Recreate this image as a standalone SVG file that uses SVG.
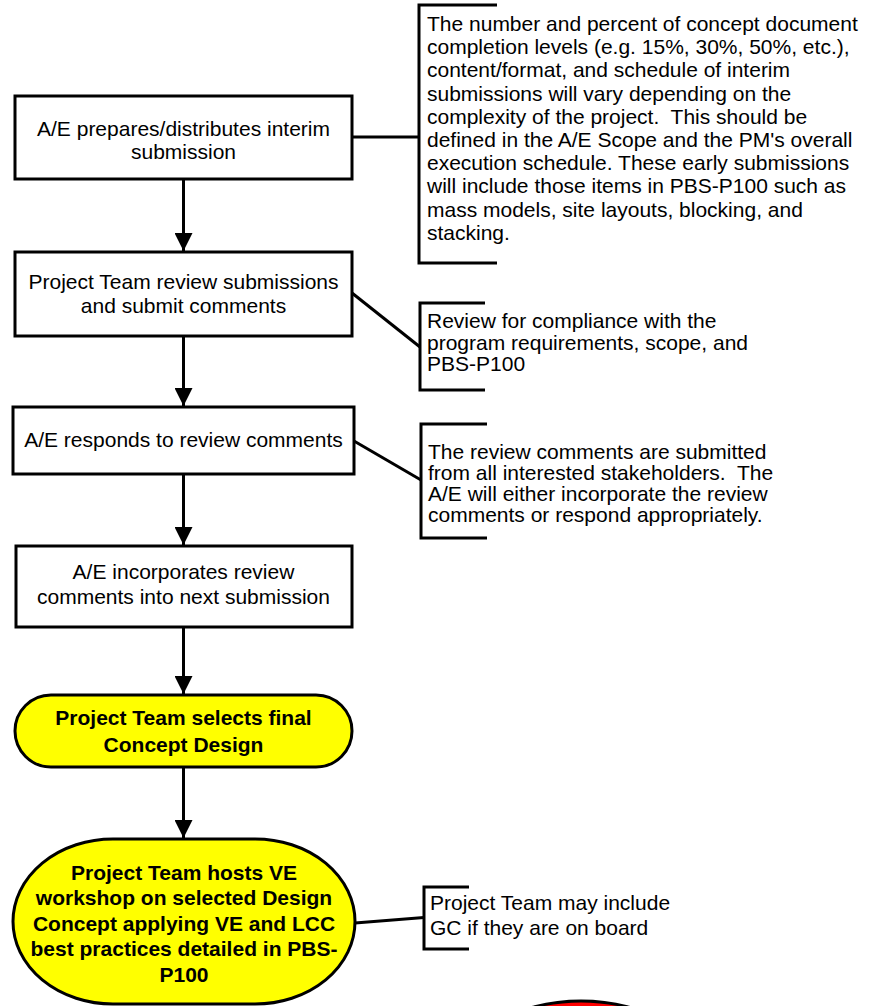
<svg xmlns="http://www.w3.org/2000/svg" width="869" height="1006" viewBox="0 0 869 1006">
<style>
.box{fill:#fff;stroke:#000;stroke-width:3}
.term{fill:#ffff00;stroke:#000;stroke-width:3}
.ln{fill:none;stroke:#000;stroke-width:3}
.t{font-family:"Liberation Sans",Arial,sans-serif;font-size:21px;fill:#000}
.c{text-anchor:middle}
.b{font-weight:bold}
</style>
<defs>
<marker id="ah" markerUnits="userSpaceOnUse" markerWidth="18" markerHeight="18" refX="18" refY="9" orient="auto">
<path d="M0,0 L18,9 L0,18 z" fill="#000"/>
</marker>
</defs>
<rect width="869" height="1006" fill="#fff"/>
<g id="connectors">
<line class="ln" x1="183.5" y1="179" x2="183.5" y2="251" marker-end="url(#ah)"/>
<line class="ln" x1="183.5" y1="336" x2="183.5" y2="406" marker-end="url(#ah)"/>
<line class="ln" x1="183.5" y1="474" x2="183.5" y2="545" marker-end="url(#ah)"/>
<line class="ln" x1="183.5" y1="627" x2="183.5" y2="694" marker-end="url(#ah)"/>
<line class="ln" x1="183.5" y1="767" x2="183.5" y2="838" marker-end="url(#ah)"/>
<line class="ln" x1="352" y1="137" x2="419" y2="137"/>
<line class="ln" x1="352" y1="293" x2="420" y2="347"/>
<line class="ln" x1="354" y1="441" x2="421" y2="480"/>
<line class="ln" x1="355" y1="923" x2="424" y2="917.5"/>
</g>
<g id="n1">
<rect class="box" x="15" y="96" width="337" height="83"/>
<text class="t c" x="183.5" y="136">A/E prepares/distributes interim</text>
<text class="t c" x="183.5" y="159">submission</text>
</g>
<g id="n2">
<rect class="box" x="15" y="252" width="337" height="84"/>
<text class="t c" x="183.5" y="289">Project Team review submissions</text>
<text class="t c" x="183.5" y="313">and submit comments</text>
</g>
<g id="n3">
<rect class="box" x="13" y="407" width="341" height="67"/>
<text class="t c" x="183.5" y="447">A/E responds to review comments</text>
</g>
<g id="n4">
<rect class="box" x="16" y="546" width="336" height="81"/>
<text class="t c" x="183.5" y="579">A/E incorporates review</text>
<text class="t c" x="183.5" y="604">comments into next submission</text>
</g>
<g id="n5">
<rect class="term" x="15" y="695" width="337" height="72" rx="36" ry="36"/>
<text class="t c b" x="183.5" y="725">Project Team selects final</text>
<text class="t c b" x="183.5" y="752">Concept Design</text>
</g>
<g id="n6">
<rect class="term" x="13" y="839" width="342" height="165" rx="100" ry="82.5"/>
<text class="t c b" x="184" y="879.5">Project Team hosts VE</text>
<text class="t c b" x="184" y="905">workshop on selected Design</text>
<text class="t c b" x="184" y="930.5">Concept applying VE and LCC</text>
<text class="t c b" x="184" y="956">best practices detailed in PBS-</text>
<text class="t c b" x="184" y="981.5">P100</text>
</g>
<g id="n7">
<ellipse cx="581" cy="1081" rx="125" ry="80" fill="#ff0000" stroke="#000" stroke-width="3"/>
</g>
<g id="a1">
<path class="ln" d="M497,5 H419 V263 H497"/>
<text class="t" x="427" xml:space="preserve"><tspan x="427" y="31">The number and percent of concept document</tspan><tspan x="427" y="54.2">completion levels (e.g. 15%, 30%, 50%, etc.),</tspan><tspan x="427" y="77.4">content/format, and schedule of interim</tspan><tspan x="427" y="100.6">submissions will vary depending on the</tspan><tspan x="427" y="123.8">complexity of the project.  This should be</tspan><tspan x="427" y="147">defined in the A/E Scope and the PM's overall</tspan><tspan x="427" y="170.2">execution schedule. These early submissions</tspan><tspan x="427" y="193.4">will include those items in PBS-P100 such as</tspan><tspan x="427" y="216.6">mass models, site layouts, blocking, and</tspan><tspan x="427" y="239.8">stacking.</tspan></text>
</g>
<g id="a2">
<path class="ln" d="M485,303 H420 V390 H485"/>
<text class="t"><tspan x="427" y="328">Review for compliance with the</tspan><tspan x="427" y="349.5">program requirements, scope, and</tspan><tspan x="427" y="371">PBS-P100</tspan></text>
</g>
<g id="a3">
<path class="ln" d="M487,424 H421 V538 H487"/>
<text class="t" xml:space="preserve"><tspan x="428" y="459">The review comments are submitted</tspan><tspan x="428" y="480">from all interested stakeholders.  The</tspan><tspan x="428" y="501">A/E will either incorporate the review</tspan><tspan x="428" y="522">comments or respond appropriately.</tspan></text>
</g>
<g id="a4">
<path class="ln" d="M469,887 H424 V949 H469"/>
<text class="t"><tspan x="430" y="910">Project Team may include</tspan><tspan x="430" y="935">GC if they are on board</tspan></text>
</g>
</svg>
